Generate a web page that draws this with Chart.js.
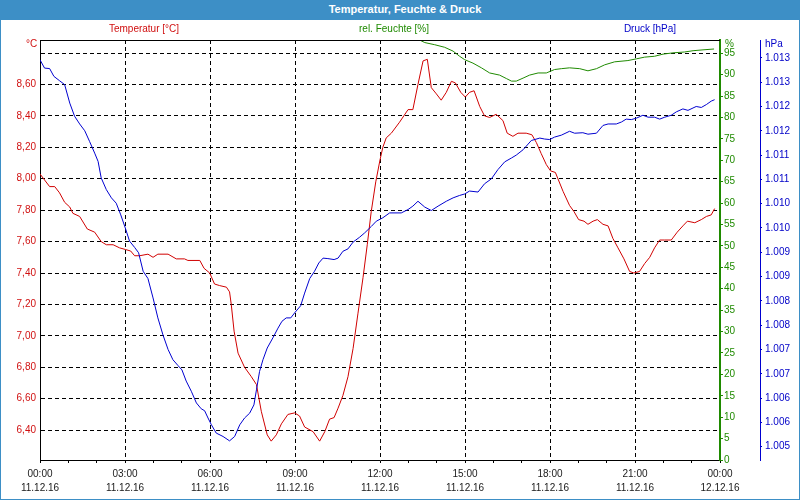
<!DOCTYPE html>
<html>
<head>
<meta charset="utf-8">
<script src="https://cdn.jsdelivr.net/npm/chart.js@4.4.1/dist/chart.umd.min.js"></script>
<style>
  body { margin: 0; background: #fff; }
  #wrap { position: relative; width: 800px; height: 500px; overflow: hidden; font-family: "Liberation Sans", Arial, sans-serif; font-size: 10px; }
  #chart { position: absolute; left: 0; top: 0; }
  .bar { position: absolute; left: 0; top: 0; width: 800px; height: 20px; background: #3d8fc6; }
  .frame { position: absolute; left: 0; top: 0; width: 800px; height: 500px; box-sizing: border-box; border: 1px solid #3d8fc6; border-top: none; pointer-events: none; }
  .lbl { position: absolute; line-height: 12px; white-space: nowrap; }
  .c { transform: translateX(-50%); }
</style>
</head>
<body>
<div id="wrap">
  <canvas id="chart" width="800" height="500"></canvas>
  <div class="bar"></div>
  <div class="frame"></div>
  <div class="lbl c" style="left:405px;top:3px;color:#fff;font-weight:bold;font-size:11px;">Temperatur, Feuchte &amp; Druck</div>
  <div class="lbl c" style="left:144px;top:23px;color:#d01010;">Temperatur [°C]</div>
  <div class="lbl c" style="left:394px;top:23px;color:#1f8a00;">rel. Feuchte [%]</div>
  <div class="lbl c" style="left:650px;top:23px;color:#0000c8;">Druck [hPa]</div>
  <div class="lbl" style="left:26px;top:38px;color:#d01010;">°C</div>
  <div class="lbl" style="left:725px;top:38px;color:#1f8a00;">%</div>
  <div class="lbl" style="left:765px;top:38px;color:#0000c8;">hPa</div>
</div>
<script>
// Temperatur (°C)
const tempHours = [0, 0.34, 0.52, 0.69, 0.87, 1.05, 1.16, 1.4, 1.67, 1.93, 2.16, 2.34, 2.58, 2.81, 3.01, 3.2, 3.34, 3.52, 3.81, 3.99,
  4.16, 4.52, 4.81, 5.1, 5.22, 5.64, 5.79, 5.99, 6.16, 6.34, 6.58, 6.69, 6.75, 6.85, 6.99, 7.22, 7.46, 7.64, 7.81, 8.02,
  8.16, 8.34, 8.52, 8.75, 8.99, 9.16, 9.34, 9.64, 9.87, 10.05, 10.22, 10.38, 10.52, 10.69, 10.87, 11.05, 11.22, 11.4, 11.55, 11.69,
  11.85, 12.0, 12.1, 12.22, 12.4, 12.69, 12.99, 13.16, 13.34, 13.52, 13.67, 13.81, 13.99, 14.16, 14.34, 14.52, 14.66, 14.85, 15.01, 15.16,
  15.32, 15.52, 15.69, 15.87, 16.1, 16.34, 16.49, 16.69, 16.87, 17.16, 17.36, 17.52, 17.69, 17.87, 18.02, 18.19, 18.46, 18.69, 18.85, 19.01,
  19.2, 19.34, 19.52, 19.67, 19.87, 20.05, 20.22, 20.4, 20.61, 20.81, 20.96, 21.16, 21.34, 21.52, 21.69, 21.87, 22.05, 22.28, 22.49, 22.69,
  22.85, 23.11, 23.34, 23.52, 23.69, 23.81];
const tempValues = [8.03, 7.95, 7.95, 7.91, 7.85, 7.82, 7.78, 7.76, 7.68, 7.66, 7.60, 7.58, 7.58, 7.56, 7.55, 7.54, 7.51, 7.51, 7.52, 7.50,
  7.52, 7.52, 7.49, 7.49, 7.48, 7.48, 7.43, 7.40, 7.33, 7.32, 7.31, 7.28, 7.20, 7.03, 6.89, 6.80, 6.74, 6.69, 6.52, 6.37,
  6.33, 6.37, 6.44, 6.50, 6.51, 6.49, 6.42, 6.39, 6.33, 6.39, 6.47, 6.48, 6.54, 6.62, 6.74, 6.92, 7.14, 7.37, 7.58, 7.79,
  7.98, 8.12, 8.20, 8.26, 8.29, 8.36, 8.44, 8.44, 8.60, 8.75, 8.76, 8.58, 8.54, 8.50, 8.55, 8.62, 8.61, 8.55, 8.52, 8.55,
  8.56, 8.46, 8.40, 8.39, 8.41, 8.37, 8.29, 8.27, 8.29, 8.29, 8.28, 8.23, 8.16, 8.09, 8.05, 8.04, 7.92, 7.83, 7.79, 7.74,
  7.73, 7.71, 7.73, 7.74, 7.71, 7.70, 7.62, 7.56, 7.49, 7.41, 7.40, 7.41, 7.46, 7.50, 7.56, 7.61, 7.61, 7.61, 7.66, 7.70,
  7.73, 7.72, 7.74, 7.76, 7.77, 7.81];

// rel. Feuchte (%)
const humHours = [13.4, 13.58, 13.93, 14.28, 14.58, 14.81, 14.99, 15.28, 15.58, 15.87, 16.22, 16.46, 16.64, 16.81, 17.05, 17.28, 17.58, 17.87,
  18.16, 18.4, 18.69, 19.05, 19.34, 19.64, 19.93, 20.28, 20.75, 21.05, 21.34, 21.69, 21.99, 22.34, 22.75, 23.05, 23.4, 23.79];
const humValues = [98.1, 97.5, 97.0, 96.4, 95.5, 94.3, 93.5, 92.7, 91.6, 90.4, 89.9, 89.1, 88.5, 88.5, 89.2, 89.9, 90.4, 90.4,
  91.2, 91.4, 91.6, 91.4, 90.9, 91.4, 92.3, 93.0, 93.3, 93.7, 94.1, 94.3, 94.8, 95.1, 95.3, 95.6, 95.8, 96.0];

// Druck (hPa)
const pressHours = [0, 0.16, 0.34, 0.49, 0.69, 0.87, 1.05, 1.22, 1.4, 1.58, 1.75, 1.93, 2.05, 2.16, 2.34, 2.52, 2.69, 2.85, 3.01, 3.16,
  3.34, 3.48, 3.64, 3.81, 3.99, 4.16, 4.34, 4.52, 4.69, 4.87, 5.01, 5.16, 5.34, 5.52, 5.69, 5.81, 5.93, 6.05, 6.22, 6.46,
  6.69, 6.87, 7.05, 7.22, 7.4, 7.55, 7.64, 7.75, 7.87, 8.02, 8.22, 8.4, 8.54, 8.69, 8.85, 9.01, 9.2, 9.34, 9.52, 9.69,
  9.84, 9.99, 10.16, 10.38, 10.52, 10.69, 10.87, 11.05, 11.28, 11.46, 11.69, 11.87, 12.1, 12.34, 12.75, 12.99, 13.16, 13.34, 13.58, 13.81,
  14.05, 14.34, 14.58, 14.81, 14.99, 15.16, 15.46, 15.69, 15.93, 16.16, 16.4, 16.64, 16.81, 17.05, 17.34, 17.64, 17.81, 17.99, 18.16, 18.4,
  18.69, 18.87, 19.16, 19.34, 19.64, 19.87, 20.05, 20.34, 20.52, 20.69, 20.87, 21.05, 21.28, 21.46, 21.69, 21.87, 22.05, 22.28, 22.46, 22.69,
  22.87, 23.16, 23.34, 23.52, 23.69, 23.81];
const pressValues = [1012.96, 1012.79, 1012.78, 1012.62, 1012.53, 1012.45, 1012.07, 1011.80, 1011.64, 1011.50, 1011.28, 1011.04, 1010.87, 1010.53, 1010.29, 1010.12, 1010.01, 1009.77, 1009.50, 1009.23,
  1009.10, 1008.99, 1008.61, 1008.46, 1008.06, 1007.65, 1007.30, 1007.00, 1006.79, 1006.67, 1006.58, 1006.35, 1006.14, 1005.90, 1005.78, 1005.74, 1005.59, 1005.45, 1005.28, 1005.21,
  1005.12, 1005.21, 1005.45, 1005.59, 1005.69, 1005.86, 1006.17, 1006.55, 1006.79, 1007.03, 1007.24, 1007.44, 1007.58, 1007.65, 1007.65, 1007.77, 1007.90, 1008.16, 1008.46, 1008.61,
  1008.78, 1008.88, 1008.87, 1008.85, 1008.88, 1009.02, 1009.07, 1009.21, 1009.31, 1009.40, 1009.53, 1009.64, 1009.71, 1009.81, 1009.81, 1009.88, 1009.95, 1010.05, 1009.93, 1009.86,
  1009.95, 1010.05, 1010.12, 1010.17, 1010.20, 1010.26, 1010.24, 1010.41, 1010.51, 1010.70, 1010.86, 1010.94, 1011.00, 1011.11, 1011.30, 1011.35, 1011.33, 1011.32, 1011.37, 1011.41,
  1011.49, 1011.45, 1011.46, 1011.43, 1011.45, 1011.61, 1011.64, 1011.64, 1011.68, 1011.74, 1011.73, 1011.76, 1011.82, 1011.78, 1011.78, 1011.74, 1011.78, 1011.82, 1011.89, 1011.95,
  1011.92, 1012.00, 1011.98, 1012.04, 1012.11, 1012.14];

// axis ticks
const timeLabels = ['00:00', '03:00', '06:00', '09:00', '12:00', '15:00', '18:00', '21:00', '00:00'];
const dateLabels = ['11.12.16', '11.12.16', '11.12.16', '11.12.16', '11.12.16', '11.12.16', '11.12.16', '11.12.16', '12.12.16'];
const tempTicks = [6.4, 6.6, 6.8, 7.0, 7.2, 7.4, 7.6, 7.8, 8.0, 8.2, 8.4, 8.6, 8.8];
const humTicks = [0, 5, 10, 15, 20, 25, 30, 35, 40, 45, 50, 55, 60, 65, 70, 75, 80, 85, 90, 95];
const pressTicks = [1005, 1005.5, 1006, 1006.5, 1007, 1007.5, 1008, 1008.5, 1009, 1009.5, 1010, 1010.5, 1011, 1011.5, 1012, 1012.5, 1013];

const red = '#d00000';
const green = '#1f8a00';
const blue = '#0000d0';

Chart.defaults.font.family = '"Liberation Sans", Arial, sans-serif';
Chart.defaults.font.size = 10;

const hourTicks = [];
for (let h = 0; h <= 24; h++) hourTicks.push(h);

const toPoints = (xs, ys) => xs.map((x, i) => ({ x: x, y: ys[i] }));
const setTicks = values => scale => { scale.ticks = values.map(v => ({ value: v })); };
const fmtPress = v => {
    const r = Math.round(v);
    return Math.floor(r / 1000) + '.' + String(r % 1000).padStart(3, '0');
};

// black line along the top of the plot area
const topLine = {
    id: 'topLine',
    afterDatasetsDraw(chart) {
        const { ctx, chartArea: a } = chart;
        ctx.save();
        ctx.strokeStyle = '#000';
        ctx.lineWidth = 1;
        ctx.beginPath();
        ctx.moveTo(a.left, a.top + 0.5);
        ctx.lineTo(a.right, a.top + 0.5);
        ctx.stroke();
        ctx.restore();
    }
};

new Chart(document.getElementById('chart'), {
    type: 'line',
    data: {
        datasets: [
            { label: 'Druck [hPa]', data: toPoints(pressHours, pressValues), borderColor: blue, yAxisID: 'yP' },
            { label: 'rel. Feuchte [%]', data: toPoints(humHours, humValues), borderColor: green, yAxisID: 'yH' },
            { label: 'Temperatur [°C]', data: toPoints(tempHours, tempValues), borderColor: red, yAxisID: 'y' }
        ]
    },
    options: {
        responsive: false,
        animation: false,
        layout: { padding: { top: 40 } },
        elements: {
            point: { radius: 0 },
            line: { borderWidth: 1, tension: 0, fill: false }
        },
        plugins: { legend: { display: false }, tooltip: { enabled: false } },
        scales: {
            x: {
                type: 'linear', position: 'bottom', min: 0, max: 24,
                afterBuildTicks: setTicks(hourTicks),
                afterFit: s => { s.height = 40; },
                grid: {
                    color: c => (c.tick && c.tick.value % 3 === 0 && c.tick.value > 0 && c.tick.value < 24) ? '#000' : 'rgba(0,0,0,0)',
                    tickColor: '#000', tickLength: 3, lineWidth: 1
                },
                border: { color: '#000', width: 1, dash: [4, 3] },
                ticks: {
                    autoSkip: false, maxRotation: 0, padding: 4, color: '#1a1a1a',
                    font: { size: 10, lineHeight: 1.4 },
                    callback: v => v % 3 === 0 ? [timeLabels[v / 3], dateLabels[v / 3]] : ''
                }
            },
            y: {
                position: 'left', min: 6.21, max: 8.883,
                afterBuildTicks: setTicks(tempTicks),
                afterFit: s => { s.width = 40; },
                grid: { color: '#000', lineWidth: 1, drawTicks: false },
                border: { color: '#000', width: 1, dash: [4, 3] },
                ticks: {
                    autoSkip: false, color: '#d01010', padding: 4,
                    callback: v => v > 8.7 ? '' : v.toFixed(2).replace('.', ',')
                }
            },
            yH: {
                position: 'right', min: 0, max: 98.1,
                afterBuildTicks: setTicks(humTicks),
                afterFit: s => { s.width = 40; },
                grid: { drawOnChartArea: false, color: green, tickLength: 3 },
                border: { color: green, width: 2 },
                ticks: { autoSkip: false, color: green, padding: 1 }
            },
            yP: {
                position: 'right', min: 1004.726, max: 1013.368,
                afterBuildTicks: setTicks(pressTicks),
                afterFit: s => { s.width = 40; },
                grid: { drawOnChartArea: false, color: blue, tickLength: 2 },
                border: { color: blue, width: 1 },
                ticks: { autoSkip: false, color: '#0000c8', padding: 3, callback: v => fmtPress(v) }
            }
        }
    },
    plugins: [topLine]
});
</script>
</body>
</html>
